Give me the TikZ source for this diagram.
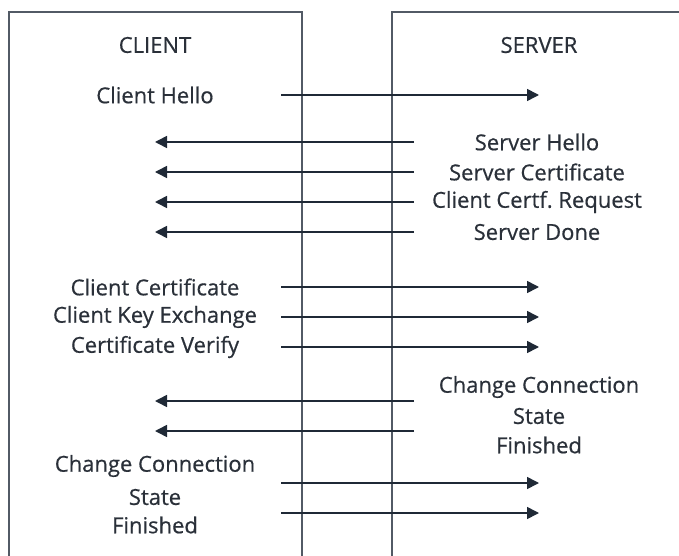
\documentclass[tikz,border=0pt]{standalone}
\usepackage{fontspec}
\setmainfont{Open Sans}
\usetikzlibrary{arrows.meta}
\definecolor{linecol}{HTML}{1F2936}
\definecolor{boxcol}{HTML}{525A65}
\definecolor{textcol}{HTML}{2A3039}
\frenchspacing
\begin{document}
\begin{tikzpicture}[x=1pt,y=-1pt,
    msg/.style={text=textcol,font=\fontsize{22}{24}\selectfont\addfontfeature{FakeBold=0.6},inner sep=0pt,align=center},
    flow/.style={draw=linecol,line width=1.6pt,-{Triangle[length=12pt,width=12pt]}}]
  \useasboundingbox (0,0) rectangle (679,556);
  % the two boxes
  \draw[boxcol,line width=1.5pt] (9,556) -- (9,12) -- (302,12) -- (302,556);
  \draw[boxcol,line width=1.5pt] (392,556) -- (392,12) -- (679,12);
  % labels
  \node[msg] (client) at (155,45) {CLIENT};
  \node[msg] (server) at (539,45) {SERVER};
  \node[msg] (chello) at (155,95) {Client Hello};
  \node[msg] (shello) at (537,142) {Server Hello};
  \node[msg] (scert) at (537,172) {Server Certificate};
  \node[msg] (creq) at (537,202) {Client Certf. Request};
  \node[msg] (sdone) at (537,232) {Server Done};
  \node[msg] (ccert) at (155,287) {Client Certificate};
  \node[msg] (ckey) at (155,317) {Client Key Exchange};
  \node[msg] (cver) at (155,347) {Certificate Verify};
  \node[msg] (schange) at (539,387) {Change Connection};
  \node[msg] (sstate) at (539,416) {State};
  \node[msg] (sfin) at (539,445) {Finished};
  \node[msg] (cchange) at (155,466) {Change Connection};
  \node[msg] (cstate) at (155,497) {State};
  \node[msg] (cfin) at (155,525) {Finished};
  % arrow ends
  \coordinate (c1) at (281,95);   \coordinate (s1) at (539,95);
  \coordinate (s2) at (414,142);  \coordinate (c2) at (155,142);
  \coordinate (s3) at (414,172);  \coordinate (c3) at (155,172);
  \coordinate (s4) at (414,202);  \coordinate (c4) at (155,202);
  \coordinate (s5) at (414,232);  \coordinate (c5) at (155,232);
  \coordinate (c6) at (281,287);  \coordinate (s6) at (539,287);
  \coordinate (c7) at (281,317);  \coordinate (s7) at (539,317);
  \coordinate (c8) at (281,347);  \coordinate (s8) at (539,347);
  \coordinate (s9) at (414,401);  \coordinate (c9) at (155,401);
  \coordinate (s10) at (414,431); \coordinate (c10) at (155,431);
  \coordinate (c11) at (281,483); \coordinate (s11) at (539,483);
  \coordinate (c12) at (281,513); \coordinate (s12) at (539,513);
  \begin{scope}[flow]
    \draw (c1) to (s1);
    \draw (s2) to (c2);
    \draw (s3) to (c3);
    \draw (s4) to (c4);
    \draw (s5) to (c5);
    \draw (c6) to (s6);
    \draw (c7) to (s7);
    \draw (c8) to (s8);
    \draw (s9) to (c9);
    \draw (s10) to (c10);
    \draw (c11) to (s11);
    \draw (c12) to (s12);
  \end{scope}
\end{tikzpicture}
\end{document}
